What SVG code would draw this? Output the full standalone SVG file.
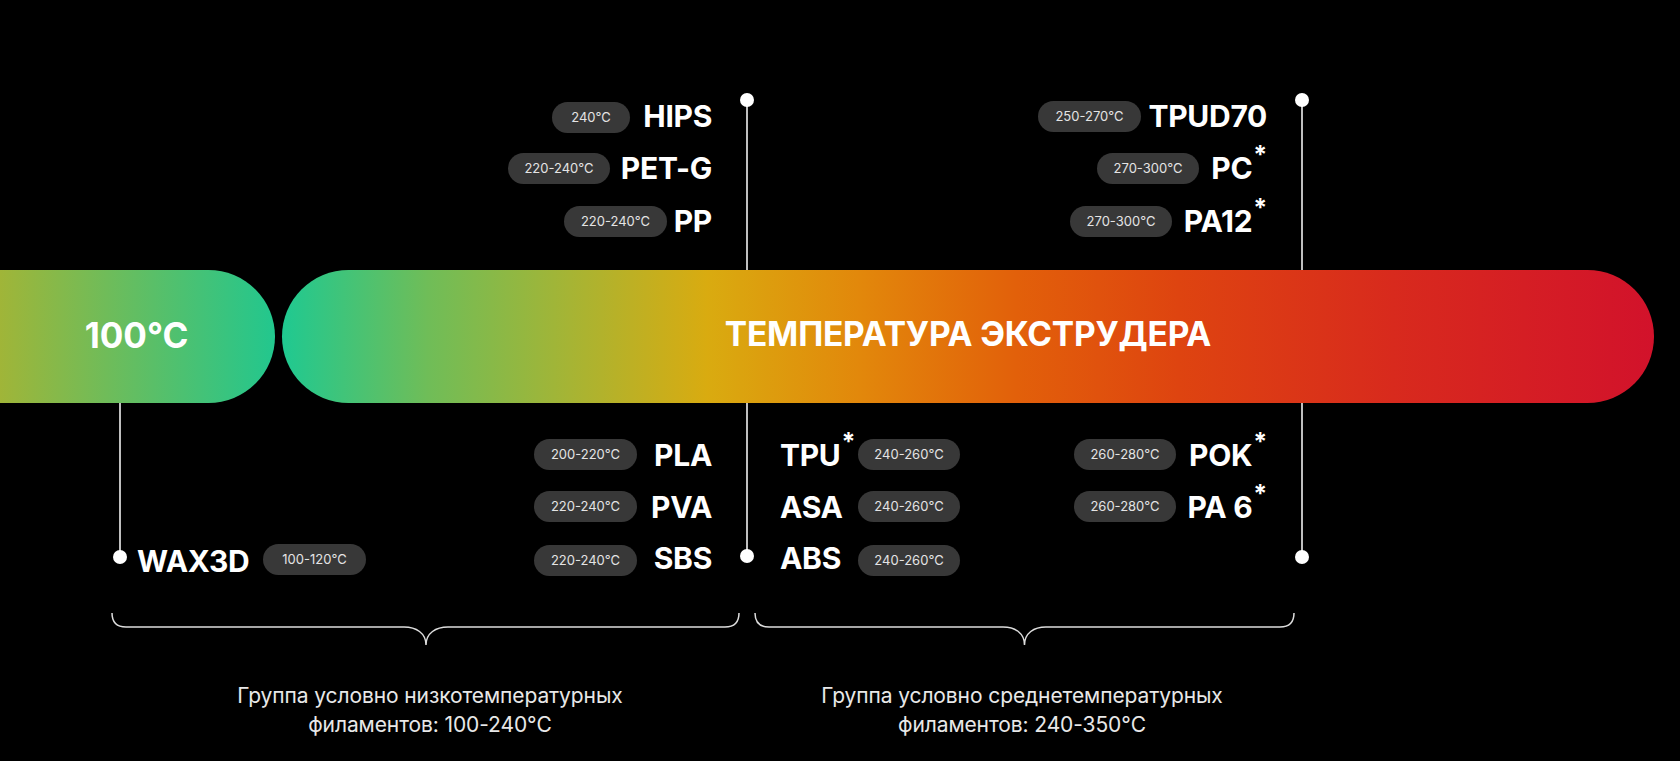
<svg xmlns="http://www.w3.org/2000/svg" width="1680" height="761" viewBox="0 0 1680 761">
<defs>
<linearGradient id="gLow" x1="0" y1="0" x2="275" y2="0" gradientUnits="userSpaceOnUse">
<stop offset="0" stop-color="#a0b538"/>
<stop offset="1" stop-color="#22c78e"/>
</linearGradient>
<linearGradient id="gMain" x1="282" y1="0" x2="1654" y2="0" gradientUnits="userSpaceOnUse">
<stop offset="0" stop-color="#1fc991"/>
<stop offset="0.106" stop-color="#6fbd58"/>
<stop offset="0.21" stop-color="#a6b434"/>
<stop offset="0.31" stop-color="#d9ab10"/>
<stop offset="0.42" stop-color="#e2880b"/>
<stop offset="0.536" stop-color="#e2600a"/>
<stop offset="0.654" stop-color="#de4410"/>
<stop offset="0.81" stop-color="#d82a1d"/>
<stop offset="1" stop-color="#d2122b"/>
</linearGradient>
<style>
.name{font-family:Inter,"Liberation Sans",sans-serif;font-weight:700;font-size:30px;fill:#ffffff;letter-spacing:-0.3px}
.ast{font-size:25px}
.pill{fill:#383838}
.pt{font-family:Inter,"Liberation Sans",sans-serif;font-weight:400;font-size:13px;fill:#e4e4e4;text-anchor:middle}
.band{font-family:Inter,"Liberation Sans",sans-serif;font-weight:700;fill:#ffffff;text-anchor:middle}
.cap{font-family:Inter,"Liberation Sans",sans-serif;font-weight:400;font-size:21px;fill:#e8e8e8;text-anchor:middle;letter-spacing:-0.1px}
.ln{stroke:#ffffff;stroke-width:1.5;fill:none}
.br{stroke:#dddddd;stroke-width:1.5;fill:none}
.dot{fill:#ffffff}
</style>
</defs>
<rect x="0" y="0" width="1680" height="761" fill="#000000"/>

<g id="connectors">
<line class="ln" x1="747" y1="100" x2="747" y2="557"/>
<line class="ln" x1="1302" y1="100" x2="1302" y2="557"/>
<line class="ln" x1="120" y1="380" x2="120" y2="557"/>
<path class="br" d="M112,613 Q112,627 126,627 H404 C416,627 426,633 426,645 C426,633 436,627 448,627 H725 Q739,627 739,613"/>
<path class="br" d="M755,613 Q755,627 769,627 H1003 C1015,627 1024.5,633 1024.5,645 C1024.5,633 1034,627 1046,627 H1280 Q1294,627 1294,613"/>
</g>

<g id="band-low">
<rect x="-140" y="270" width="415" height="133" rx="66.5" fill="url(#gLow)"/>
<text class="band" x="136.5" y="348" font-size="35">100°C</text>
</g>

<g id="band-main">
<rect x="282" y="270" width="1372" height="133" rx="66.5" fill="url(#gMain)"/>
<text class="band" x="968" y="346" font-size="33.5" letter-spacing="-0.2">ТЕМПЕРАТУРА ЭКСТРУДЕРА</text>
</g>

<g id="dots">
<circle class="dot" cx="747" cy="100" r="7"/>
<circle class="dot" cx="1302" cy="100" r="7"/>
<circle class="dot" cx="747" cy="556" r="7"/>
<circle class="dot" cx="1302" cy="557" r="7"/>
<circle class="dot" cx="120" cy="557" r="7"/>
</g>

<g id="hips"><rect class="pill" x="552" y="102" width="78" height="31" rx="15.5"/><text class="pt" x="591" y="122">240°C</text><text class="name" x="712" y="127" text-anchor="end">HIPS</text></g>
<g id="petg"><rect class="pill" x="508" y="153" width="102" height="31" rx="15.5"/><text class="pt" x="559" y="173">220-240°C</text><text class="name" x="712" y="179" text-anchor="end">PET-G</text></g>
<g id="pp"><rect class="pill" x="564" y="206" width="103" height="31" rx="15.5"/><text class="pt" x="615.5" y="226">220-240°C</text><text class="name" x="712" y="232" text-anchor="end">PP</text></g>

<g id="tpud70"><rect class="pill" x="1038" y="101" width="103" height="31" rx="15.5"/><text class="pt" x="1089.5" y="121">250-270°C</text><text class="name" x="1267" y="127" text-anchor="end">TPUD70</text></g>
<g id="pc"><rect class="pill" x="1097" y="153" width="102" height="31" rx="15.5"/><text class="pt" x="1148" y="173">270-300°C</text><text class="name" x="1267" y="179" text-anchor="end">PC<tspan class="ast" dx="1" dy="-15">*</tspan></text></g>
<g id="pa12"><rect class="pill" x="1070" y="206" width="102" height="31" rx="15.5"/><text class="pt" x="1121" y="226">270-300°C</text><text class="name" x="1267" y="232" text-anchor="end">PA12<tspan class="ast" dx="1" dy="-15">*</tspan></text></g>

<g id="pla"><rect class="pill" x="534" y="439" width="103" height="31" rx="15.5"/><text class="pt" x="585.5" y="459">200-220°C</text><text class="name" x="712" y="466" text-anchor="end">PLA</text></g>
<g id="pva"><rect class="pill" x="534" y="491" width="103" height="31" rx="15.5"/><text class="pt" x="585.5" y="511">220-240°C</text><text class="name" x="712" y="518" text-anchor="end">PVA</text></g>
<g id="sbs"><rect class="pill" x="534" y="545" width="103" height="31" rx="15.5"/><text class="pt" x="585.5" y="565">220-240°C</text><text class="name" x="712" y="569" text-anchor="end">SBS</text></g>

<g id="tpu"><rect class="pill" x="858" y="439" width="102" height="31" rx="15.5"/><text class="pt" x="909" y="459">240-260°C</text><text class="name" x="780" y="466">TPU<tspan class="ast" dx="1" dy="-15">*</tspan></text></g>
<g id="asa"><rect class="pill" x="858" y="491" width="102" height="31" rx="15.5"/><text class="pt" x="909" y="511">240-260°C</text><text class="name" x="780" y="518">ASA</text></g>
<g id="abs"><rect class="pill" x="858" y="545" width="102" height="31" rx="15.5"/><text class="pt" x="909" y="565">240-260°C</text><text class="name" x="780" y="569">ABS</text></g>

<g id="pok"><rect class="pill" x="1074" y="439" width="102" height="31" rx="15.5"/><text class="pt" x="1125" y="459">260-280°C</text><text class="name" x="1267" y="466" text-anchor="end">POK<tspan class="ast" dx="1" dy="-15">*</tspan></text></g>
<g id="pa6"><rect class="pill" x="1074" y="491" width="102" height="31" rx="15.5"/><text class="pt" x="1125" y="511">260-280°C</text><text class="name" x="1267" y="518" text-anchor="end">PA 6<tspan class="ast" dx="1" dy="-15">*</tspan></text></g>

<g id="wax3d"><text class="name" x="137" y="572">WAX3D</text><rect class="pill" x="263" y="544" width="103" height="31" rx="15.5"/><text class="pt" x="314.5" y="564">100-120°C</text></g>

<g id="caption-low"><text class="cap" x="430" y="703">Группа условно низкотемпературных</text><text class="cap" x="430" y="732">филаментов: 100-240°C</text></g>
<g id="caption-mid"><text class="cap" x="1022" y="703">Группа условно среднетемпературных</text><text class="cap" x="1022" y="732">филаментов: 240-350°C</text></g>
</svg>
